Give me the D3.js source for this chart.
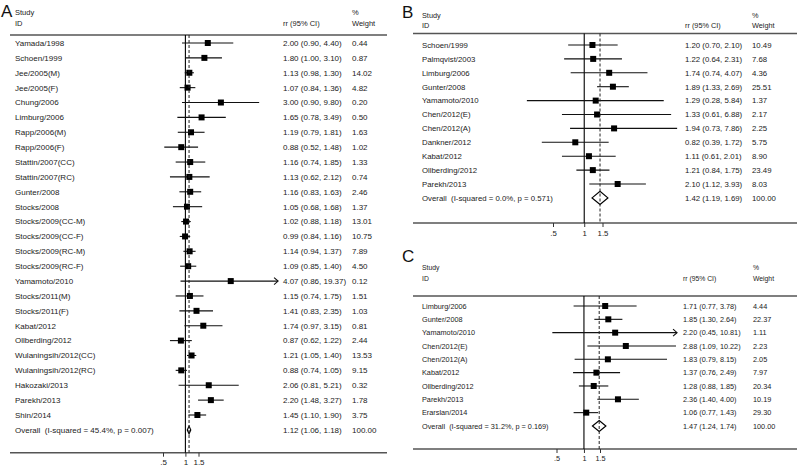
<!DOCTYPE html>
<html><head><meta charset="utf-8">
<script src="https://cdn.jsdelivr.net/npm/d3@7/dist/d3.min.js"></script>
<style>body{margin:0;background:#fff}text{font-family:"Liberation Sans",Arial,sans-serif;fill:#222}</style>
</head><body><svg id="c" width="797" height="469"></svg>
<script>
// ---- Panel A data ----
const studiesA = ["Yamada/1998","Schoen/1999","Jee/2005(M)","Jee/2005(F)","Chung/2006","Limburg/2006","Rapp/2006(M)","Rapp/2006(F)","Stattin/2007(CC)","Stattin/2007(RC)","Gunter/2008","Stocks/2008","Stocks/2009(CC-M)","Stocks/2009(CC-F)","Stocks/2009(RC-M)","Stocks/2009(RC-F)","Yamamoto/2010","Stocks/2011(M)","Stocks/2011(F)","Kabat/2012","Ollberding/2012","Wulaningsih/2012(CC)","Wulaningsih/2012(RC)","Hakozaki/2013","Parekh/2013","Shin/2014"];
const rrA   = [2.00,1.80,1.13,1.07,3.00,1.65,1.19,0.88,1.16,1.13,1.16,1.05,1.02,0.99,1.14,1.09,4.07,1.15,1.41,1.74,0.87,1.21,0.88,2.06,2.20,1.45];
const lowA  = [0.90,1.00,0.98,0.84,0.90,0.78,0.79,0.52,0.74,0.62,0.83,0.68,0.88,0.84,0.94,0.85,0.86,0.74,0.83,0.97,0.62,1.05,0.74,0.81,1.48,1.10];
const highA = [4.40,3.10,1.30,1.36,9.80,3.49,1.81,1.48,1.85,2.12,1.63,1.68,1.18,1.16,1.37,1.40,19.37,1.75,2.35,3.15,1.22,1.40,1.05,5.21,3.27,1.90];
const weightA = [0.44,0.87,14.02,4.82,0.20,0.50,1.63,1.02,1.33,0.74,2.46,1.37,13.01,10.75,7.89,4.50,0.12,1.51,1.03,0.81,2.44,13.53,9.15,0.32,1.78,3.75];
const overallA = [1.12,1.06,1.18];
const overallLabelA = "Overall  (I-squared = 45.4%, p = 0.007)";

// ---- Panel B data ----
const studiesB = ["Schoen/1999","Palmqvist/2003","Limburg/2006","Gunter/2008","Yamamoto/2010","Chen/2012(E)","Chen/2012(A)","Dankner/2012","Kabat/2012","Ollberding/2012","Parekh/2013"];
const rrB   = [1.20,1.22,1.74,1.89,1.29,1.33,1.94,0.82,1.11,1.21,2.10];
const lowB  = [0.70,0.64,0.74,1.33,0.28,0.61,0.73,0.39,0.61,0.84,1.12];
const highB = [2.10,2.31,4.07,2.69,5.84,6.88,7.86,1.72,2.01,1.75,3.93];
const weightB = [10.49,7.68,4.36,25.51,1.37,2.17,2.25,5.75,8.90,23.49,8.03];
const overallB = [1.42,1.19,1.69];
const overallLabelB = "Overall  (I-squared = 0.0%, p = 0.571)";

// ---- Panel C data ----
const studiesC = ["Limburg/2006","Gunter/2008","Yamamoto/2010","Chen/2012(E)","Chen/2012(A)","Kabat/2012","Ollberding/2012","Parekh/2013","Erarslan/2014"];
const rrC   = [1.71,1.85,2.20,2.88,1.83,1.37,1.28,2.36,1.06];
const lowC  = [0.77,1.30,0.45,1.09,0.79,0.76,0.88,1.40,0.77];
const highC = [3.78,2.64,10.81,10.22,8.15,2.49,1.85,4.00,1.43];
const weightC = [4.44,22.37,1.11,2.23,2.05,7.97,20.34,10.19,29.30];
const overallC = [1.47,1.24,1.74];
const overallLabelC = "Overall  (I-squared = 31.2%, p = 0.169)";

const tickVals = [0.5, 1, 1.5];
const tickLabels = [".5", "1", "1.5"];
const headStudy = "Study", headID = "ID", headRR = "rr (95% CI)", headPct = "%", headW = "Weight";

const f2 = d3.format(".2f");
const svg = d3.select("#c");

function panel(letter, studies, rr, lo, hi, w, ov, ovLabel, L) {
  const g = svg.append("g");
  const x = d3.scaleLog().domain([0.5, 1.5]).range(L.tickRange);
  const y = i => L.row0 + i * L.step;
  const n = studies.length;
  const fs = L.fs;
  // letter
  g.append("text").attr("x", L.letterX).attr("y", L.letterY).style("font-size", "17px").style("fill", "#111").text(letter);
  // headers
  g.append("text").attr("x", L.labelX).attr("y", L.head1).style("font-size", (fs-0.5)+"px").text(headStudy);
  g.append("text").attr("x", L.labelX).attr("y", L.head2).style("font-size", (fs-0.5)+"px").text(headID);
  g.append("text").attr("x", L.rrX).attr("y", L.head2).style("font-size", (fs-0.5)+"px").text(headRR);
  g.append("text").attr("x", L.wX).attr("y", L.head1).style("font-size", (fs-0.5)+"px").text(headPct);
  g.append("text").attr("x", L.wX).attr("y", L.head2).style("font-size", (fs-0.5)+"px").text(headW);
  // header line & axis line
  g.append("line").attr("x1", L.x0).attr("x2", L.x1).attr("y1", L.headLine).attr("y2", L.headLine).attr("stroke", "#555").attr("stroke-width", 1.4);
  g.append("line").attr("x1", L.x0).attr("x2", L.x1).attr("y1", L.axisY).attr("y2", L.axisY).attr("stroke", "#555").attr("stroke-width", 1.4);
  // axis ticks
  const ax = d3.axisBottom(x).tickValues(tickVals).tickSize(4).tickFormat((d, i) => tickLabels[i]);
  const axG = g.append("g").attr("transform", `translate(0,${L.axisY})`).call(ax);
  axG.select(".domain").remove();
  axG.selectAll(".tick line").attr("stroke", "#333");
  axG.selectAll(".tick text").attr("y", 7).style("font-size", fs + "px").style("font-family", '"Liberation Sans",Arial,sans-serif').attr("fill", "#222");
  // null line
  g.append("line").attr("x1", x(1)).attr("x2", x(1)).attr("y1", L.headLine).attr("y2", L.axisY).attr("stroke", "#000").attr("stroke-width", 1.1);
  // rows
  studies.forEach((s, i) => {
    const yy = y(i);
    g.append("text").attr("x", L.labelX).attr("y", yy + fs*0.36).style("font-size", fs+"px").text(s);
    g.append("text").attr("x", L.rrX).attr("y", yy + fs*0.36).style("font-size", fs+"px").text(`${f2(rr[i])} (${f2(lo[i])}, ${f2(hi[i])})`);
    g.append("text").attr("x", L.wX).attr("y", yy + fs*0.36).style("font-size", fs+"px").text(f2(w[i]));
    const clipped = hi[i] > L.clip;
    const xe = x(Math.min(hi[i], L.clip));
    g.append("line").attr("x1", x(lo[i])).attr("x2", xe).attr("y1", yy).attr("y2", yy).attr("stroke", "#111").attr("stroke-width", 1.1);
    if (clipped) {
      g.append("polyline").attr("points", `${xe-4},${yy-3.5} ${xe},${yy} ${xe-4},${yy+3.5}`).attr("fill", "none").attr("stroke", "#111").attr("stroke-width", 1.1);
    }
    const b = L.box;
    g.append("rect").attr("x", x(rr[i]) - b/2).attr("y", yy - b/2).attr("width", b).attr("height", b).attr("fill", "#000");
  });
  // overall
  const yo = y(n);
  g.append("text").attr("x", L.labelX).attr("y", yo + fs*0.36).style("font-size", fs+"px").style("white-space", "pre").text(ovLabel);
  g.append("text").attr("x", L.rrX).attr("y", yo + fs*0.36).style("font-size", fs+"px").text(`${f2(ov[0])} (${f2(ov[1])}, ${f2(ov[2])})`);
  g.append("text").attr("x", L.wX).attr("y", yo + fs*0.36).style("font-size", fs+"px").text(f2(100));
  const dh = L.dh;
  g.append("polygon").attr("points", `${x(ov[1])},${yo} ${x(ov[0])},${yo-dh} ${x(ov[2])},${yo} ${x(ov[0])},${yo+dh}`).attr("fill", "#fff").attr("stroke", "#000").attr("stroke-width", 1.2);
  // overall dashed line
  g.append("line").attr("x1", x(ov[0])).attr("x2", x(ov[0])).attr("y1", L.headLine).attr("y2", L.axisY).attr("stroke", "#222").attr("stroke-width", 1).attr("stroke-dasharray", "3,2");
}

panel("A", studiesA, rrA, lowA, highA, weightA, overallA, overallLabelA,
  {x0:10, x1:387, letterX:1, letterY:17, head1:14.5, head2:26, headLine:35, row0:43, step:14.88, axisY:452.7,
   labelX:15, rrX:283, wX:352, fs:8, tickRange:[163,198.5], clip:17.6, box:6, dh:3.8});
panel("B", studiesB, rrB, lowB, highB, weightB, overallB, overallLabelB,
  {x0:413, x1:797, letterX:402, letterY:18, head1:17.5, head2:28, headLine:33.5, row0:45, step:13.9, axisY:223,
   labelX:422, rrX:685, wX:752, fs:7.8, tickRange:[553,602.5], clip:20, box:6, dh:6.5});
panel("C", studiesC, rrC, lowC, highC, weightC, overallC, overallLabelC,
  {x0:413, x1:797, letterX:402, letterY:262, head1:270, head2:281, headLine:296, row0:306, step:13.33, axisY:449,
   labelX:422, rrX:683, wX:753, fs:7.3, tickRange:[556.5,600], clip:10.5, box:6, dh:5.5});
</script></body></html>
